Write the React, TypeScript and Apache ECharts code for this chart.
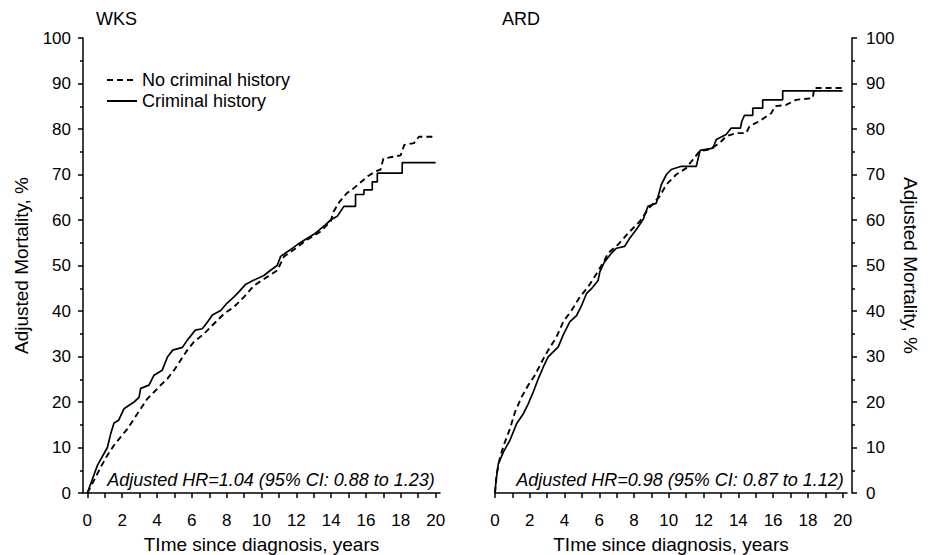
import React, { useEffect, useRef } from "react";
import * as echarts from "echarts";

// ---------- data ----------
const xLabelValues = [0, 2, 4, 6, 8, 10, 12, 14, 16, 18, 20];
const xTickValues = [0, 1, 2, 3, 4, 5, 6, 7, 8, 9, 10, 11, 12, 13, 14, 15, 16, 17, 18, 19, 20];

const legendNames = ["No criminal history", "Criminal history"];
const panelTitles = ["WKS", "ARD"];
const hrTexts = [
  "Adjusted HR=1.04 (95% CI: 0.88 to 1.23)",
  "Adjusted HR=0.98 (95% CI: 0.87 to 1.12)",
];

// WKS – criminal history (solid)
const wksCrimT = [0, 0.57, 1.15, 1.34, 1.53, 1.8, 2.1, 2.68, 2.97, 3.06, 3.54, 3.83, 4.3, 4.6, 4.9, 5.46, 5.74, 6.2, 6.6, 6.9, 7.18, 7.66, 8.04, 8.42, 8.7, 9.1, 9.57, 10.14, 10.5, 10.9, 11.1, 11.67, 12.06, 12.63, 13.1, 13.68, 13.97, 14.35, 14.73, 15.4, 15.4, 15.88, 15.88, 16.36, 16.36, 16.65, 16.65, 18.08, 18.08, 20];
const wksCrimV = [0, 6, 10, 13, 15.4, 16, 18.5, 20, 21, 23, 23.7, 25.9, 27, 29.9, 31.4, 32, 33.6, 35.8, 36.1, 37.6, 39.1, 40.1, 41.8, 43.1, 44.2, 45.9, 46.8, 47.8, 48.9, 50, 52, 53.5, 54.6, 56, 57.1, 59, 60, 60.8, 63, 63, 65.6, 65.6, 66.6, 66.6, 68.4, 68.4, 70.3, 70.3, 72.6, 72.6];

// WKS – no criminal history (dashed)
const wksNoT = [0, 0.48, 0.77, 1.15, 1.53, 1.91, 2.3, 2.68, 3.06, 3.44, 3.83, 4.21, 4.59, 4.98, 5.36, 5.74, 6.12, 6.7, 7.27, 7.85, 8.42, 9.0, 9.57, 10.33, 10.9, 11.3, 11.87, 12.63, 13.4, 13.97, 14.16, 14.5, 14.9, 15.3, 15.7, 16.1, 16.55, 16.84, 17.0, 17.56, 17.99, 18.2, 18.76, 19.04, 20];
const wksNoV = [0, 3.5, 5.7, 8.3, 10.5, 12.3, 14.1, 16.3, 18.5, 20.7, 22.2, 23.7, 25.1, 27, 29.2, 31.4, 33.2, 35, 37.2, 39.4, 40.9, 43.1, 45.6, 47.5, 48.9, 52, 53.5, 55.7, 57.5, 59.7, 62, 64.1, 65.9, 67, 68.3, 69.6, 70.7, 71.1, 73.5, 73.9, 74.2, 76.5, 76.9, 78.3, 78.3];

// ARD – criminal history (solid)
const ardCrimT = [0, 0.06, 0.19, 0.48, 0.86, 1.24, 1.63, 1.91, 2.2, 2.49, 2.78, 3.06, 3.35, 3.64, 3.92, 4.3, 4.69, 4.98, 5.26, 5.55, 5.93, 6.03, 6.3, 6.7, 6.99, 7.46, 7.75, 8.13, 8.52, 8.8, 9.28, 9.57, 9.86, 10.14, 10.72, 11.58, 11.8, 12.54, 12.73, 13.3, 13.59, 14.12, 14.2, 14.35, 14.83, 14.83, 15.4, 15.4, 16.55, 16.55, 20];
const ardCrimV = [0, 2.8, 6.4, 9, 11.6, 15.2, 17.4, 19.6, 22.2, 25.1, 27.7, 29.9, 31, 32.1, 34.7, 37.6, 39, 41.2, 43.8, 44.9, 46.7, 48.6, 50.8, 52.7, 53.8, 54.2, 56, 57.9, 60.1, 63, 63.7, 67.8, 70, 71.1, 71.8, 71.8, 75.3, 75.8, 77.7, 78.8, 80.2, 80.2, 81.7, 83, 83, 84.6, 84.6, 86.4, 86.4, 88.4, 88.4];

// ARD – no criminal history (dashed)
const ardNoT = [0, 0.1, 0.29, 0.57, 0.86, 1.15, 1.53, 1.91, 2.3, 2.68, 3.06, 3.54, 3.92, 4.4, 4.88, 5.36, 5.84, 6.3, 6.5, 7.08, 7.66, 8.33, 8.8, 9.47, 9.86, 10.43, 11.0, 11.39, 11.77, 12.34, 12.92, 13.3, 13.88, 14.45, 14.64, 15.2, 15.9, 16.1, 16.75, 17.32, 18.28, 18.37, 20];
const ardNoV = [0, 4.2, 7.9, 11.2, 14.1, 17.8, 21.1, 23.7, 25.9, 28.8, 31.4, 34.3, 37.6, 40.1, 43.1, 45.3, 48.2, 51.1, 52.7, 54.6, 57.1, 59.7, 62.3, 65.2, 67.8, 70, 71.4, 73.3, 75.1, 75.5, 76.9, 78.4, 79.1, 79.1, 80.6, 81.7, 83.5, 85, 85.3, 86.4, 86.8, 89, 89];

// ---------- helpers ----------
const FONT = "'Liberation Sans', Arial, Helvetica, sans-serif";
const BLACK = "#000";

const zip = (t: number[], v: number[]) => t.map((x, i) => [x, v[i]]);

function makeXAxis(gridIndex: number, min: number, max: number) {
  return {
    type: "value",
    gridIndex,
    min,
    max,
    axisLine: { show: true, onZero: false, lineStyle: { color: BLACK, width: 1.5 } },
    axisTick: {
      show: true,
      customValues: xTickValues,
      length: 5,
      lineStyle: { color: BLACK, width: 1.5 },
    },
    axisLabel: {
      show: true,
      customValues: xLabelValues,
      color: BLACK,
      fontSize: 17,
      fontFamily: FONT,
      margin: 19,
    },
    splitLine: { show: false },
    name: "TIme since diagnosis, years",
    nameLocation: "middle",
    nameGap: 42,
    nameTextStyle: { color: BLACK, fontSize: 19, fontFamily: FONT },
  };
}

function makeYAxis(gridIndex: number, position: "left" | "right") {
  return {
    type: "value",
    gridIndex,
    position,
    offset: position === "right" ? 5 : 0,
    min: 0,
    max: 100,
    interval: 10,
    axisLine: { show: true, onZero: false, lineStyle: { color: BLACK, width: 1.5 } },
    axisTick: { show: true, length: 5, lineStyle: { color: BLACK, width: 1.5 } },
    minorTick: { show: true, splitNumber: 2, length: 3, lineStyle: { color: BLACK, width: 1.5 } },
    axisLabel: { color: BLACK, fontSize: 17, fontFamily: FONT, margin: position === "right" ? 14 : 12 },
    splitLine: { show: false },
    minorSplitLine: { show: false },
    name: "Adjusted Mortality, %",
    nameLocation: "middle",
    nameGap: position === "right" ? 49 : 52,
    nameRotate: position === "right" ? -90 : 90,
    nameTextStyle: { color: BLACK, fontSize: 19, fontFamily: FONT },
  };
}

function makeSeries(name: string, data: number[][], idx: number, dashed: boolean) {
  return {
    type: "line",
    name,
    xAxisIndex: idx,
    yAxisIndex: idx,
    data,
    symbol: "none",
    showSymbol: false,
    smooth: false,
    lineStyle: {
      color: BLACK,
      width: dashed ? 1.9 : 1.7,
      type: dashed ? [6, 4] : "solid",
    },
    itemStyle: { color: BLACK },
    emphasis: { disabled: true },
  };
}

export default function App() {
  const ref = useRef<HTMLDivElement>(null);

  useEffect(() => {
    if (!ref.current) return;
    const chart = echarts.init(ref.current, null, { renderer: "svg" });
    const option: any = {
      animation: false,
      backgroundColor: "#fff",
      textStyle: { fontFamily: FONT, color: BLACK },
      title: [
        { text: panelTitles[0], left: 96, top: 10, padding: 0, textStyle: { fontSize: 18, fontWeight: "normal", color: BLACK, fontFamily: FONT } },
        { text: panelTitles[1], left: 502, top: 10, padding: 0, textStyle: { fontSize: 18, fontWeight: "normal", color: BLACK, fontFamily: FONT } },
      ],
      legend: {
        data: legendNames,
        orient: "vertical",
        left: 106,
        top: 71,
        padding: 0,
        itemWidth: 30,
        itemHeight: 12,
        itemGap: 3,
        selectedMode: false,
        itemStyle: { opacity: 0 },
        textStyle: { fontSize: 18, color: BLACK, fontFamily: FONT },
      },
      grid: [
        { left: 83, top: 38, width: 357, height: 455, containLabel: false, outerBoundsMode: "none" },
        { left: 495, top: 38, width: 352, height: 455, containLabel: false, outerBoundsMode: "none" },
      ],
      xAxis: [makeXAxis(0, -0.25, 20.25), makeXAxis(1, 0, 20.25)],
      yAxis: [makeYAxis(0, "left"), makeYAxis(1, "right")],
      series: [
        makeSeries(legendNames[0], zip(wksNoT, wksNoV), 0, true),
        makeSeries(legendNames[1], zip(wksCrimT, wksCrimV), 0, false),
        makeSeries(legendNames[0], zip(ardNoT, ardNoV), 1, true),
        makeSeries(legendNames[1], zip(ardCrimT, ardCrimV), 1, false),
      ],
      graphic: [
        {
          type: "text",
          x: 271,
          y: 480,
          style: {
            text: hrTexts[0],
            fill: BLACK,
            fontSize: 18,
            fontStyle: "italic",
            fontFamily: FONT,
            align: "center",
            verticalAlign: "middle",
          },
        },
        {
          type: "text",
          x: 680,
          y: 480,
          style: {
            text: hrTexts[1],
            fill: BLACK,
            fontSize: 18,
            fontStyle: "italic",
            fontFamily: FONT,
            align: "center",
            verticalAlign: "middle",
          },
        },
      ],
    };
    chart.setOption(option);
    return () => chart.dispose();
  }, []);

  return (
    <div
      ref={ref}
      style={{ position: "absolute", left: 0, top: 0, width: 933, height: 555, background: "#fff" }}
    />
  );
}
